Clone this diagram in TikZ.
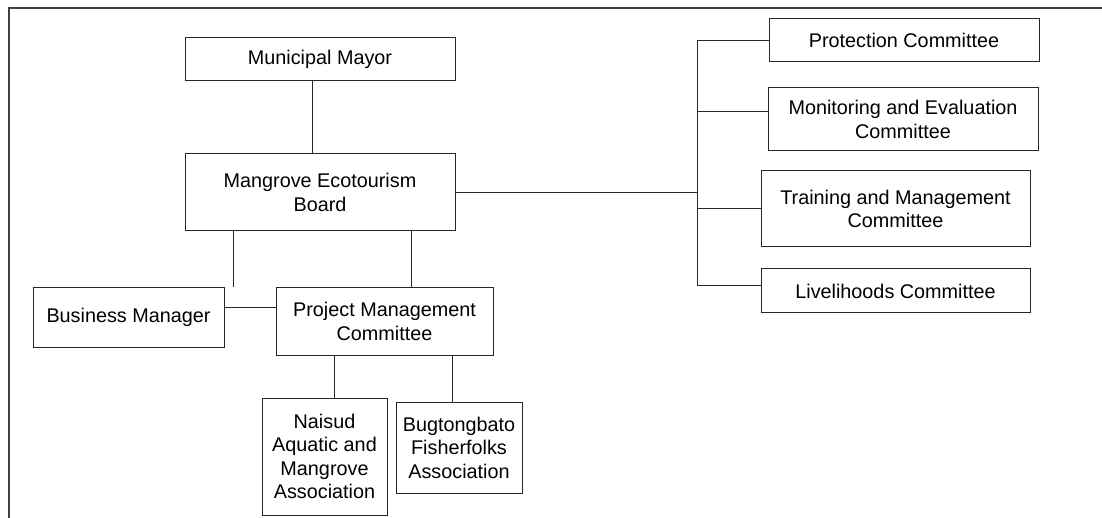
\documentclass[tikz,border=0pt]{standalone}
\usepackage{fontspec}
\setmainfont{Liberation Sans}
\usepackage{tikz}
\usetikzlibrary{positioning,calc}

\begin{document}
\begin{tikzpicture}[
  x=1pt, y=-1pt,
  font=\fontsize{19.8}{23.5}\selectfont,
  blk/.style={draw=black!85, line width=1pt, align=center, inner sep=0pt},
  lnk/.style={draw=black!85, line width=1pt},
  frm/.style={draw=black!75, line width=1.6pt}
]
\useasboundingbox (0,0) rectangle (1102,518);

% ==================== FRAME ====================
\draw[frm] (9,518) -- (9,8) -- (1102,8);

% ==================== MAIN CHAIN ====================
\node[blk, minimum width=270, minimum height=43] (mayor) at (320,59.5) {Municipal Mayor};
\node[blk, minimum width=270, minimum height=77] (board) at (320,192.5) {Mangrove Ecotourism\\Board};

\node[blk, minimum width=191, minimum height=59] (bm) at (128.5,317.5) {Business Manager};
\node[blk, minimum width=217, minimum height=67] (pmc) at (384.5,321.5) {Project Management\\Committee};

\node[blk, minimum width=125, minimum height=117] (naisud) at (324.5,456.5) {Naisud\\Aquatic and\\Mangrove\\Association};
\node[blk, minimum width=126, minimum height=91] (bugto) at (459,447.5) {Bugtongbato\\Fisherfolks\\Association};

% ==================== COMMITTEES ====================
\node[blk, minimum width=270, minimum height=43] (prot) at (904,40.5) {Protection Committee};
\node[blk, minimum width=270, minimum height=63] (monit) at (903,119.5) {Monitoring and Evaluation\\Committee};
\node[blk, minimum width=269, minimum height=76] (train) at (895.5,209) {Training and Management\\Committee};
\node[blk, minimum width=269, minimum height=44] (livel) at (895.5,291) {Livelihoods Committee};

% bus line
\coordinate (bustop) at (697,40.5);
\coordinate (busbot) at (697,286);

% ==================== CONNECTORS ====================
\draw[lnk] ([xshift=-8]mayor.south) -- ([xshift=-8]board.north);
\draw[lnk] ([xshift=-87]board.south) -- ([xshift=-87]board.south |- bm.north);
\draw[lnk] ([xshift=91]board.south) -- ([xshift=91]board.south |- pmc.north);
\draw[lnk] (bm.east |- 0,308) -- (pmc.west |- 0,308);
\draw[lnk] ([xshift=-50.5]pmc.south) -- ([xshift=-50.5]pmc.south |- naisud.north);
\draw[lnk] ([xshift=67.5]pmc.south) -- ([xshift=67.5]pmc.south |- bugto.north);

\draw[lnk] (board.east) -- (board.east -| bustop);
\draw[lnk] (bustop) -- (busbot);
\draw[lnk] (bustop) -- (prot.west);
\draw[lnk] (bustop |- 0,112) -- (monit.west |- 0,112);
\draw[lnk] (bustop |- train.west) -- (train.west);
\draw[lnk] (busbot) -- (livel.west |- busbot);

\end{tikzpicture}
\end{document}
